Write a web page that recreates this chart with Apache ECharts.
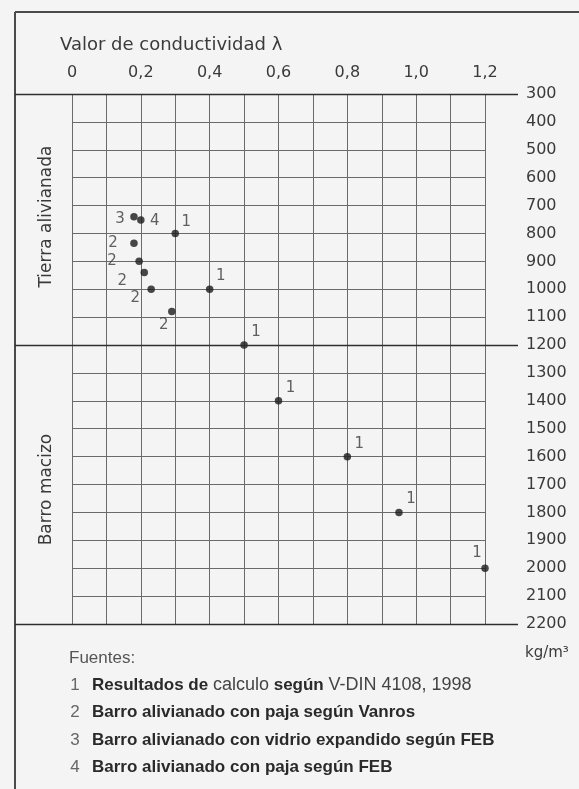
<!DOCTYPE html>
<html>
<head>
<meta charset="utf-8">
<script src="https://cdn.jsdelivr.net/npm/echarts@6/dist/echarts.min.js"></script>
<style>
html,body{margin:0;padding:0;background:#f4f4f4;}
#c{width:579px;height:789px;}
</style>
</head>
<body>
<div id="c"></div>
<script>
// ---- data ----
const X_TICK_LABELS = ['0', '0,2', '0,4', '0,6', '0,8', '1,0', '1,2'];
const Y_TICKS = [300,400,500,600,700,800,900,1000,1100,1200,1300,1400,1500,1600,1700,1800,1900,2000,2100,2200];
const ZONES = ['Tierra alivianada', 'Barro macizo'];
const ZONE_BOUNDS = [[300, 1200], [1200, 2200]];
const SOURCE_1 = [[0.30, 800], [0.40, 1000], [0.50, 1200], [0.60, 1400], [0.80, 1600], [0.95, 1800], [1.20, 2000]];
const SOURCE_2 = [[0.18, 835], [0.195, 900], [0.21, 940], [0.23, 1000], [0.29, 1080]];
const SOURCE_3 = [[0.18, 740]];
const SOURCE_4 = [[0.20, 752]];
const SOURCE_NAMES = [
  '{b|Resultados de} {n|calculo} {b|según} {n|V-DIN 4108, 1998}',
  'Barro alivianado con paja según Vanros',
  'Barro alivianado con vidrio expandido según FEB',
  'Barro alivianado con paja según FEB'
];

// ---- label placement (styling, kept apart from data) ----
const OFFS_1 = [[11, -11], [11, -13], [12, -13], [12, -13], [12, -13], [12, -13], [-8, -15]];
const OFFS_2 = [[-21, 0], [-27, 0], [-22, 9], [-16, 9], [-8, 14]];
const OFFS_3 = [[-14, 2]];
const OFFS_4 = [[14, 1]];

const FONT = 'DejaVu Sans';
const chart = echarts.init(document.getElementById('c'), null, {renderer: 'canvas'});

function mkSeries(name, data, offs, txt) {
  return {
    name: name,
    type: 'scatter',
    symbolSize: 7.5,
    itemStyle: {color: '#1c1c1c'},
    data: data.map((d, i) => ({
      value: d,
      label: {
        show: true, position: 'inside', offset: offs[i], formatter: txt,
        color: '#3a3a3a', fontFamily: FONT, fontSize: 15
      }
    })),
    z: 5
  };
}

chart.setOption({
  backgroundColor: '#f4f4f4',
  animation: false,
  grid: {left: 72, right: 94, top: 94, bottom: 165},
  xAxis: {
    type: 'value', position: 'top', min: 0, max: 1.2, interval: 0.1,
    axisLine: {show: false}, axisTick: {show: false},
    axisLabel: {
      margin: 13, color: '#3a3a3a', fontFamily: FONT, fontSize: 16,
      formatter: v => { const k = Math.round(v * 10); return k % 2 === 0 ? X_TICK_LABELS[k / 2] : ''; }
    },
    splitLine: {show: true, lineStyle: {color: '#6a6a6a', width: 1}}
  },
  yAxis: {
    type: 'value', position: 'right', inverse: true, min: 300, max: 2200, interval: 100,
    axisLine: {show: false}, axisTick: {show: false},
    axisLabel: {
      margin: 41, color: '#3a3a3a', fontFamily: FONT, fontSize: 16, align: 'left',
      formatter: v => Y_TICKS.indexOf(v) >= 0 ? String(v) : ''
    },
    splitLine: {show: true, lineStyle: {color: '#6a6a6a', width: 1}}
  },
  series: [
    mkSeries('1', SOURCE_1, OFFS_1, '1'),
    mkSeries('2', SOURCE_2, OFFS_2, '2'),
    mkSeries('3', SOURCE_3, OFFS_3, '3'),
    mkSeries('4', SOURCE_4, OFFS_4, '4')
  ]
});

// ---- decorations computed from axes ----
const FRAME_L = 15, FRAME_T = 12, LINE_R = 518;
const yPx = v => chart.convertToPixel({yAxisIndex: 0}, v);
const g = [];
// frame
g.push({type: 'line', shape: {x1: FRAME_L, y1: FRAME_T, x2: 579, y2: FRAME_T}, style: {stroke: '#4a4a4a', lineWidth: 2}, z: 10});
g.push({type: 'line', shape: {x1: FRAME_L, y1: FRAME_T, x2: FRAME_L, y2: 789}, style: {stroke: '#4a4a4a', lineWidth: 2}, z: 10});
// zone separators
[ZONE_BOUNDS[0][0], ZONE_BOUNDS[0][1], ZONE_BOUNDS[1][1]].forEach(v => {
  const y = Math.round(yPx(v)) + 0.5;
  g.push({type: 'line', shape: {x1: FRAME_L, y1: y, x2: LINE_R, y2: y}, style: {stroke: '#2e2e2e', lineWidth: 1.3}, z: 10});
});
// zone names
ZONES.forEach((name, i) => {
  const yc = (yPx(ZONE_BOUNDS[i][0]) + yPx(ZONE_BOUNDS[i][1])) / 2;
  g.push({type: 'text', x: 47, y: yc + (i === 1 ? 5 : -3), rotation: Math.PI / 2,
    style: {text: name, font: '17px "' + FONT + '"', fill: '#3a3a3a', textAlign: 'center', textVerticalAlign: 'middle'}, z: 10});
});
// axis title
g.push({type: 'text', x: 60, y: 45, style: {text: 'Valor de conductividad λ', font: '18px "' + FONT + '"', fill: '#3a3a3a', textVerticalAlign: 'middle'}, z: 10});
// unit
g.push({type: 'text', x: 525, y: 653, style: {text: 'kg/m³', font: '15px "' + FONT + '"', fill: '#3a3a3a', textVerticalAlign: 'middle'}, z: 10});
// sources
g.push({type: 'text', x: 69, y: 658, style: {text: 'Fuentes:', font: '17px "Liberation Sans"', fill: '#555', textVerticalAlign: 'middle'}, z: 10});
SOURCE_NAMES.forEach((s, i) => {
  const y = 685 + i * 27.5;
  g.push({type: 'text', x: 75, y: y, style: {text: String(i + 1), font: '17px "Liberation Sans"', fill: '#666', textAlign: 'center', textVerticalAlign: 'middle'}, z: 10});
  g.push({type: 'text', x: 92, y: y, style: {
    text: i === 0 ? s : '{b|' + s + '}',
    textVerticalAlign: 'middle', fill: '#2a2a2a', font: '17px "Liberation Sans"',
    rich: {
      b: {fontFamily: 'Liberation Sans', fontSize: 17, fontWeight: 'bold', fill: '#2a2a2a', color: '#2a2a2a'},
      n: {fontFamily: 'Liberation Sans', fontSize: 18, fontWeight: 'normal', fill: '#444', color: '#444'}
    }
  }, z: 10});
});
chart.setOption({graphic: g});
</script>
</body>
</html>
